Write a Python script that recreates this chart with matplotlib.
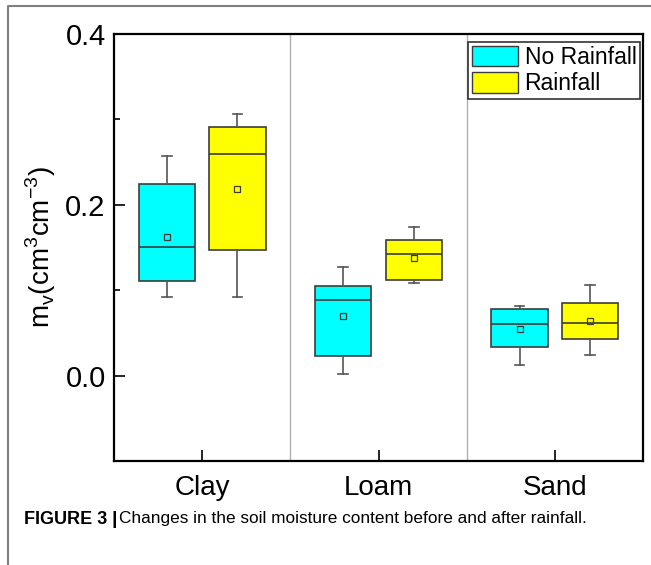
import matplotlib.pyplot as plt
from matplotlib.patches import Patch
from matplotlib.lines import Line2D
import numpy as np

plt.rcParams['font.family'] = ['Liberation Sans', 'DejaVu Sans']

soils = ['Clay', 'Loam', 'Sand']

# box stats: whisker low, Q1, median, Q3, whisker high, mean
no_rain_low = [0.092, 0.002, 0.012]
no_rain_q1 = [0.111, 0.023, 0.034]
no_rain_med = [0.151, 0.088, 0.061]
no_rain_q3 = [0.224, 0.105, 0.078]
no_rain_high = [0.257, 0.127, 0.082]
no_rain_mean = [0.162, 0.070, 0.055]

rain_low = [0.092, 0.108, 0.024]
rain_q1 = [0.147, 0.112, 0.043]
rain_med = [0.259, 0.142, 0.062]
rain_q3 = [0.291, 0.159, 0.085]
rain_high = [0.306, 0.174, 0.106]
rain_mean = [0.219, 0.138, 0.064]


def stats(low, q1, med, q3, high, mean):
    out = []
    for i in range(len(low)):
        out.append(dict(whislo=low[i], q1=q1[i], med=med[i], q3=q3[i],
                        whishi=high[i], mean=mean[i], fliers=[]))
    return out


fig = plt.figure(figsize=(6.51, 5.65), dpi=100)
ax = fig.add_axes([114/651, 1-461/565, 529/651, 427/565])

x = np.arange(1, len(soils) + 1)
edge = '#3c3c3c'
for st, off, col in [(stats(no_rain_low, no_rain_q1, no_rain_med, no_rain_q3, no_rain_high, no_rain_mean), -0.2, '#00ffff'),
                     (stats(rain_low, rain_q1, rain_med, rain_q3, rain_high, rain_mean), 0.2, '#ffff00')]:
    ax.bxp(st, positions=x + off, widths=0.32, capwidths=0.055, patch_artist=True,
           showmeans=True, showfliers=False, manage_ticks=False,
           boxprops=dict(facecolor=col, edgecolor=edge, linewidth=1.2),
           medianprops=dict(color=edge, linewidth=1.2),
           whiskerprops=dict(color='#555555', linewidth=1.2),
           capprops=dict(color='#555555', linewidth=1.2),
           meanprops=dict(marker='s', markersize=4.5, markerfacecolor='none',
                          markeredgecolor=edge, markeredgewidth=0.9))

# separators between soil types
for s in [1.5, 2.5]:
    ax.axvline(s, color='#b0b0b0', linewidth=1, zorder=0)

ax.set_xlim(0.5, 3.5)
ax.set_ylim(-0.1, 0.4)
ax.set_xticks(x)
ax.set_xticklabels(soils, fontsize=20)
ax.set_yticks([0.0, 0.2, 0.4])
ax.set_yticklabels(['0.0', '0.2', '0.4'], fontsize=21)
ax.set_yticks([-0.1, 0.1, 0.3], minor=True)
ax.tick_params(axis='both', direction='in', length=8, width=1.2, pad=6)
ax.tick_params(axis='x', pad=10)
ax.tick_params(axis='y', which='minor', direction='in', length=4, width=1.2)
for sp in ax.spines.values():
    sp.set_linewidth(1.6)
ax.set_ylabel(r'm$_\mathregular{v}$(cm$^\mathregular{3}$cm$^\mathregular{-3}$)', fontsize=20, labelpad=5)

handles = [Patch(facecolor='#00ffff', edgecolor=edge, label='No Rainfall'),
           Patch(facecolor='#ffff00', edgecolor=edge, label='Rainfall')]
leg = ax.legend(handles=handles, loc='upper right', bbox_to_anchor=(0.994, 0.981),
                borderaxespad=0, fontsize=16.5, fancybox=False, framealpha=1,
                handlelength=2.0, handleheight=1.0, labelspacing=0.15,
                handletextpad=0.3, borderpad=0.15)
leg.get_frame().set_edgecolor('#333333')
leg.get_frame().set_linewidth(1.2)

# page frame
fig.add_artist(Line2D([8/651, 8/651, 1], [0, 1-6/565, 1-6/565], color='#808080', linewidth=1.5))

# caption
t1 = fig.text(24/651, 1-519/565, 'FIGURE 3', fontsize=13, fontweight='bold', va='center')
fig.canvas.draw()
bb = t1.get_window_extent()
fig.text((bb.x1 + 4)/651, 1-519/565, '|', fontsize=14, fontweight='bold', va='center')
fig.text((bb.x1 + 12)/651, 1-519/565, 'Changes in the soil moisture content before and after rainfall.',
         fontsize=12.4, va='center')

fig.savefig('out.png', dpi=100)
